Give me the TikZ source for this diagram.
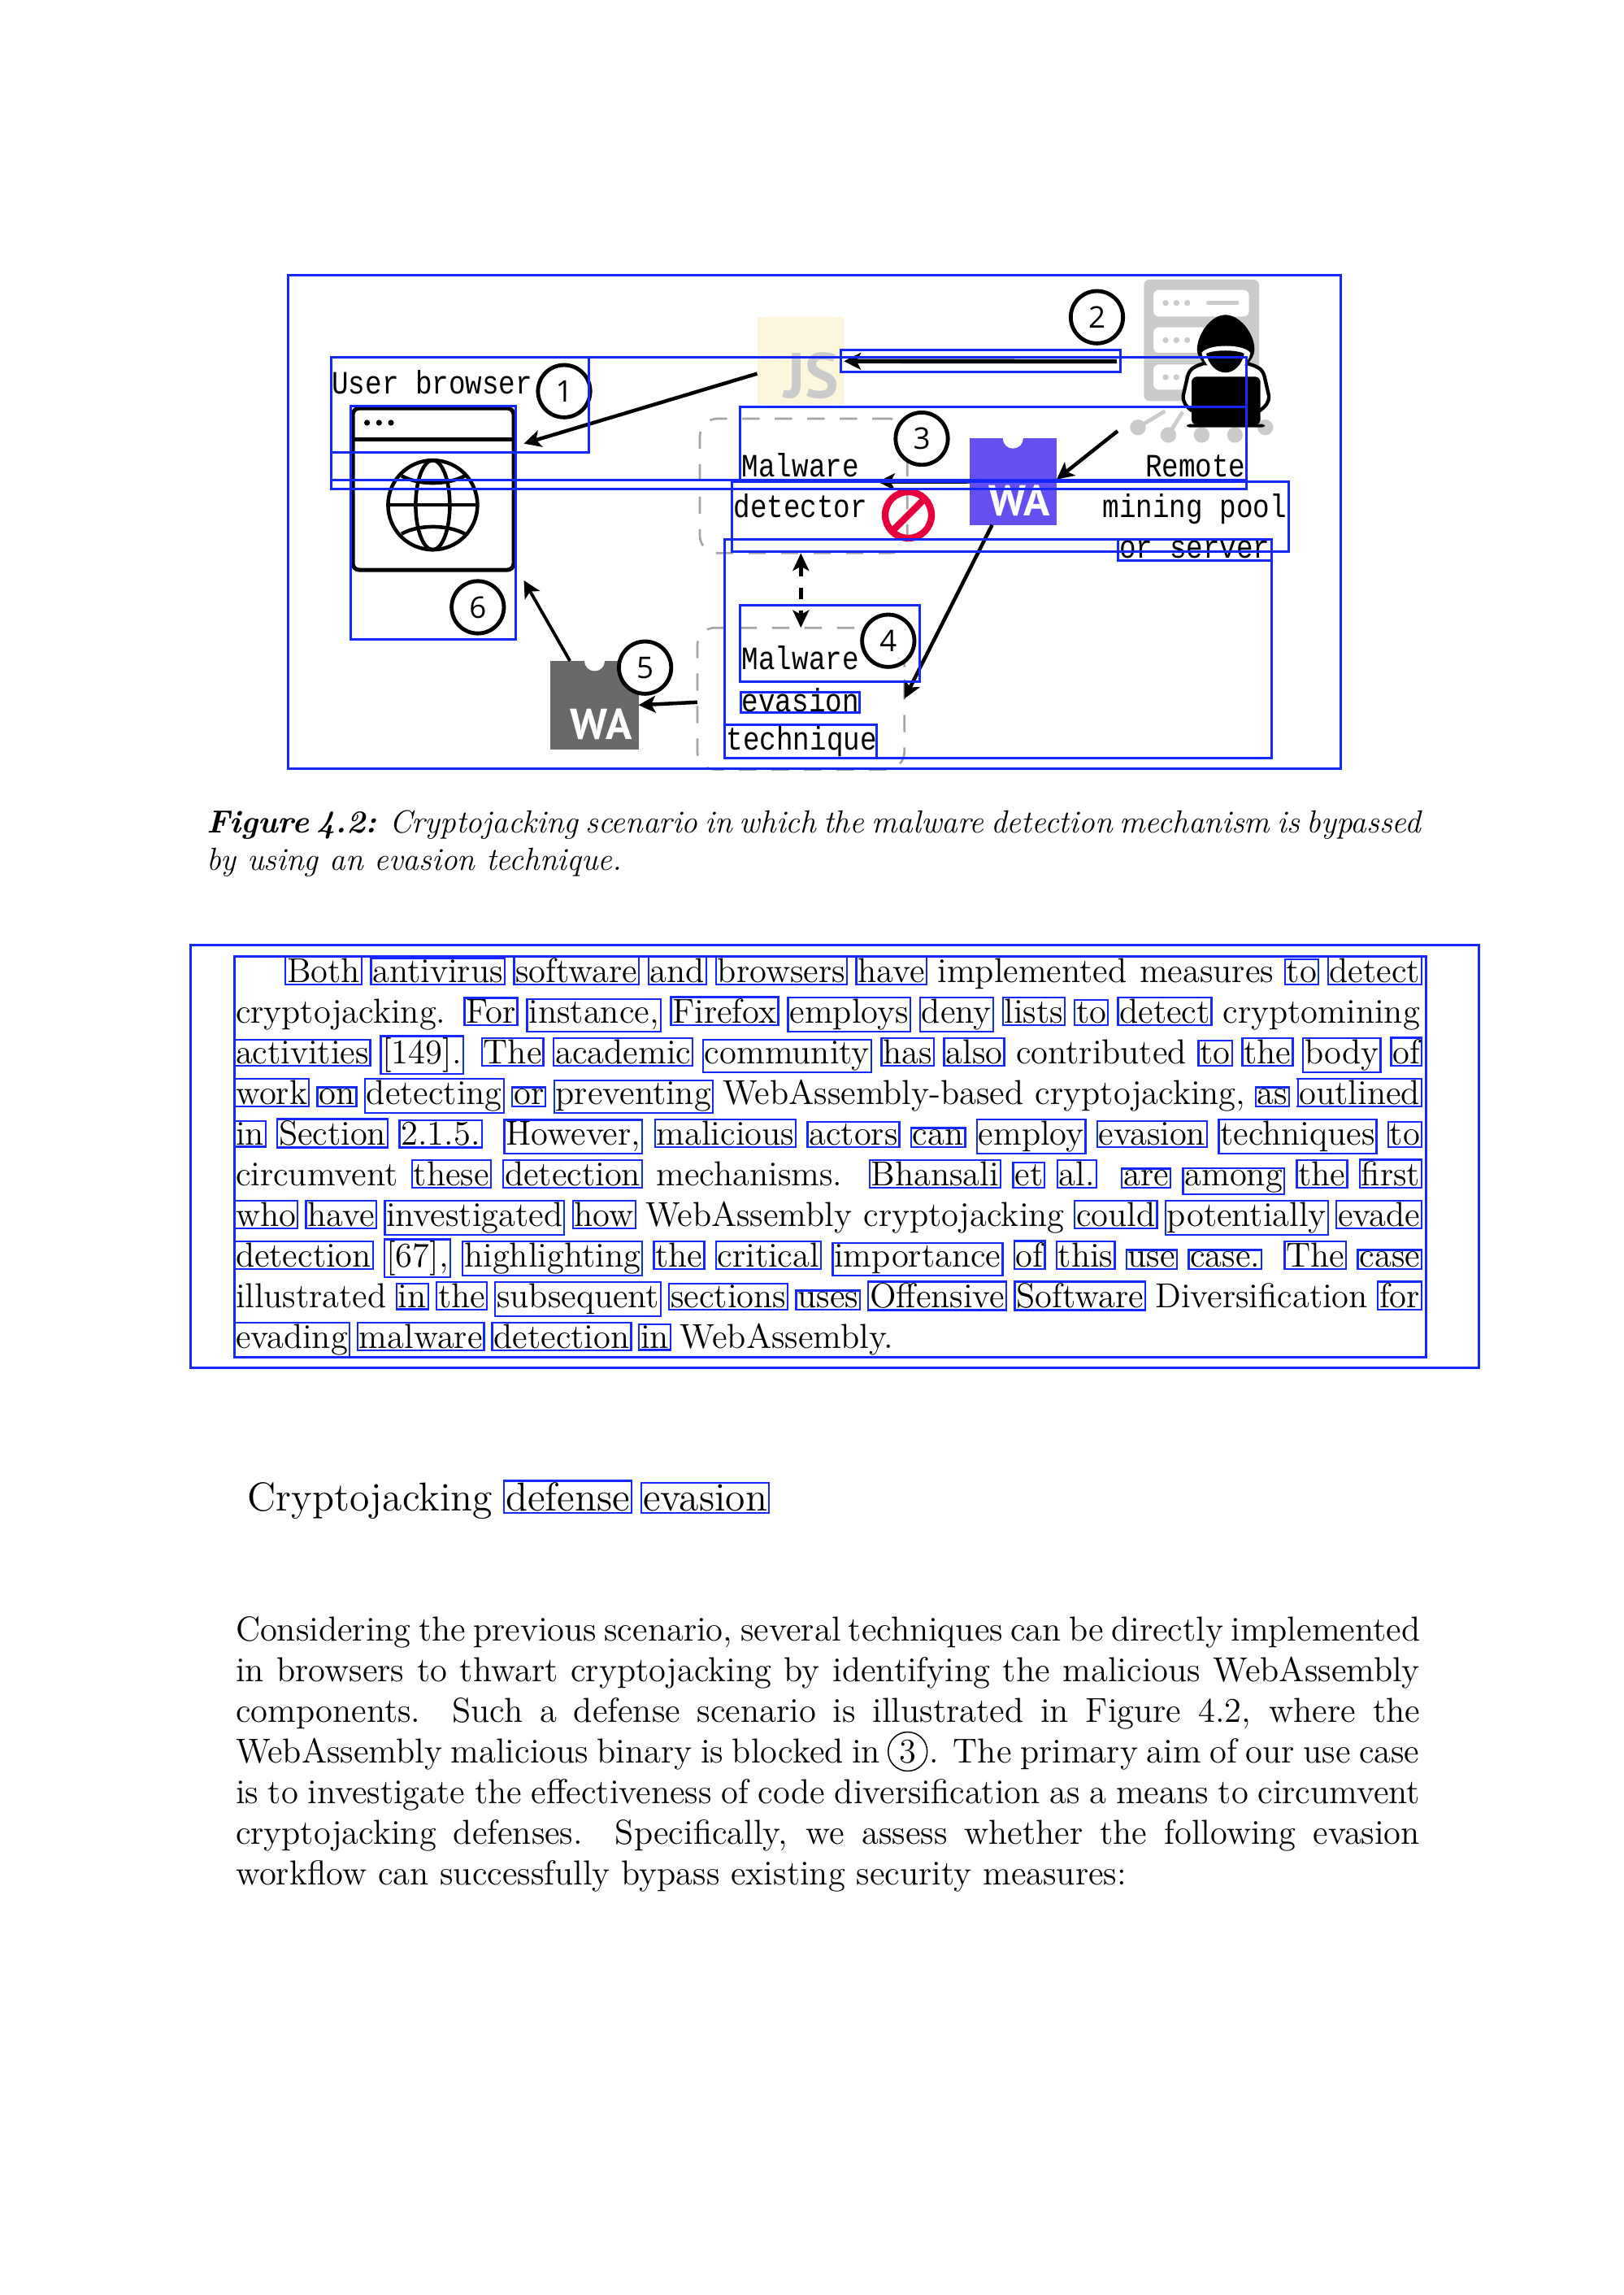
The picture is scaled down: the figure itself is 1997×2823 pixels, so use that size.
\documentclass[tikz,border=0pt]{standalone}
\usepackage{fontspec}
\usetikzlibrary{arrows.meta}
\newfontfamily\monof[FakeStretch=0.857]{Liberation Mono}
\newfontfamily\numf{Open Sans}
\newfontfamily\logof{PT Sans}
\definecolor{boxblue}{RGB}{20,40,255}
\definecolor{dashgray}{RGB}{165,165,165}
\definecolor{jsbg}{RGB}{251,246,220}
\definecolor{lightgray2}{RGB}{203,203,203}
\definecolor{wablue}{RGB}{101,79,240}
\definecolor{wagray}{RGB}{105,105,105}
\definecolor{noent}{RGB}{230,0,60}
\newcommand\bx[1]{\leavevmode\rlap{\kern-.95pt\color{boxblue}\fboxsep=.25pt\fboxrule=.7pt\fbox{\phantom{#1}}}#1}
\newcommand\jl[2]{\hbox to #1{#2}}
\tikzset{
  every node/.style={inner sep=0pt,outer sep=0pt},
  blueb/.style={draw=boxblue,line width=.9pt},
  txtline/.style={anchor=base west,font=\fontsize{12.78}{15}\selectfont},
  capline/.style={anchor=base west,font=\fontsize{11.8}{13.5}\selectfont\itshape},
  monolabel/.style={anchor=base west,font=\fontsize{12}{14}\selectfont\monof},
  numc/.style={circle,draw=black,fill=white,line width=1.45pt,minimum size=19.3pt,font=\fontsize{11}{13}\selectfont\numf},
  dashbox/.style={draw=dashgray,line width=.8pt,rounded corners=6.5pt,dash pattern=on 6.4pt off 5.6pt},
  conn/.style={draw=black,line width=1.35pt,-{Stealth[length=6.3pt,width=6.3pt,inset=1.6pt]}},
  logo/.style={font=\fontsize{16}{18}\selectfont\logof\bfseries},
}
\begin{document}
\begin{tikzpicture}[x=.3pt,y=-.3pt]
\useasboundingbox (0,0) rectangle (1997,2823);
% ---- dashed containers
\node[dashbox,minimum width=76.56pt,minimum height=49.62pt] (detector) at (988.6,597.7) {};
\node[dashbox,minimum width=76.44pt,minimum height=52.29pt] (evasion) at (985.3,859.35) {};
% ---- JS logo
\node[fill=jsbg,minimum width=32pt,minimum height=32.46pt] (js) at (984.85,444.3) {};
\node[anchor=base east,text=lightgray2,font=\fontsize{23.5}{25}\selectfont\logof\bfseries] (jstext) at (1032,489.4) {JS};
% ---- WA logos
\node[fill=wablue,minimum width=32.1pt,minimum height=31.95pt] (wablue) at (1246.5,592.5) {};
\fill[white] (1246.3,539.2) circle [radius=12.5];
\node[logo,text=white,anchor=base] (watext) at (1254,634.3) {WA};
\node[fill=wagray,minimum width=32.55pt,minimum height=32.58pt] (wagray) at (731.25,867.3) {};
\fill[white] (731.5,813) circle [radius=12.5];
\node[logo,text=white,anchor=base] (watext2) at (739.3,909.8) {WA};
% ---- browser icon
\node[draw=black,line width=1.5pt,rounded corners=2.4pt,minimum width=59.4pt,minimum height=59.7pt] (browser) at (533,601.6) {};
\draw[line width=1.5pt] (434,540.4) -- (632,540.4);
\fill (451.6,520) circle [radius=3.6] (466.3,520) circle [radius=3.6] (481,520) circle [radius=3.6];
\begin{scope}[line width=1.35pt]
\draw (532.4,621.2) circle [radius=55];
\draw (532.4,621.2) ellipse [x radius=21,y radius=55];
\draw (477.4,621.2) -- (587.4,621.2);
\draw (494,585.3) .. controls (515,597) and (550,597) .. (572,585.3);
\draw (494,656.7) .. controls (515,645) and (550,645) .. (572,656.7);
\end{scope}
% ---- server and hacker icon
\begin{scope}[shift={(1380,340)},x=.1pt,y=-.1pt]
\fill[lightgray2,rounded corners=2pt] (82,12) rectangle (507,460);
\foreach \ya/\yb in {50/148,188/282,325/418}{
  \fill[white,rounded corners=2pt] (117,\ya) rectangle (470,\yb);
}
\foreach \yy in {98,235,372}{
  \fill[lightgray2] (162,\yy) circle [radius=11] (202,\yy) circle [radius=11] (242,\yy) circle [radius=11];
}
\draw[lightgray2,line width=1.7pt,line cap=round] (320,98) -- (425,98);
\draw[lightgray2,line width=1.4pt] (60,557) -- (160,497);
\draw[lightgray2,line width=1.4pt] (172,585) -- (225,500);
\fill[lightgray2] (60,557) circle [radius=29] (172,585) circle [radius=29] (295,585) circle [radius=29] (418,585) circle [radius=29] (530,557) circle [radius=29];
\draw[black,fill=white,line width=1.3pt,line join=round] (300,322) .. controls (270,332) and (250,340) .. (243,370) -- (227,440) .. controls (225,465) and (238,480) .. (258,495) -- (510,495) .. controls (530,480) and (545,465) .. (543,440) -- (527,370) .. controls (520,340) and (500,332) .. (465,322) -- cycle;
\fill[black] (278,270) .. controls (280,210) and (330,142) .. (383,142) .. controls (436,142) and (490,210) .. (490,270) .. controls (490,290) and (478,310) .. (462,325) -- (305,325) .. controls (290,305) and (278,290) .. (278,270) -- cycle;
\fill[white] (295,282) .. controls (320,248) and (450,248) .. (475,282) .. controls (468,320) and (430,365) .. (383,365) .. controls (340,365) and (302,320) .. (295,282) -- cycle;
\fill[black] (312,285) .. controls (340,270) and (425,270) .. (452,285) .. controls (445,325) and (415,355) .. (383,355) .. controls (350,355) and (320,325) .. (312,285) -- cycle;
\fill[black,rounded corners=2pt] (258,548) -- (258,370) -- (512,370) -- (512,548) -- cycle;
\fill[black,rounded corners=1pt] (240,545) rectangle (528,557);
\end{scope}
\coordinate (srvA) at (1373.8,444.5);
\coordinate (srvB) at (1375,530.2);
\coordinate (brA) at (644.5,545.7);
\coordinate (brB) at (644.5,713.9);
\coordinate (detIn) at (1080,592.7);
% ---- no-entry sign
\node[circle,draw=noent,line width=2.5pt,minimum size=17.1pt] (noentry) at (1117.5,633.5) {};
\draw[noent,line width=2.5pt] (noentry.225) -- (noentry.45);
% ---- connectors
\draw[conn] (js.196) -- (brA);
\draw[conn,line width=1.6pt] (srvA) -- (js.east);
\draw[conn] (srvB) -- (wablue.3);
\draw[conn] (wablue.west) -- (detIn);
\draw[conn] (wablue.244.6) -- (evasion.east);
\draw[conn,line width=1.4pt,dash pattern=on 4.2pt off 4.2pt,{Stealth[length=6.5pt,width=6pt,inset=1.6pt]}-{Stealth[length=6.5pt,width=6pt,inset=1.6pt]}] (evasion.north |- detector.south) -- (evasion.north);
\draw[conn] (evasion.182) -- (wagray.east);
\draw[conn,line width=1.15pt] (wagray.119.3) -- (brB);
% ---- numbered circles
\node[numc] (n1) at (694,481.2) {1};
\node[numc] (n2) at (1349.5,390.2) {2};
\node[numc] (n3) at (1134,539.6) {3};
\node[numc] (n4) at (1092.8,788.2) {4};
\node[numc] (n5) at (793.6,821.2) {5};
\node[numc] (n6) at (587.8,747) {6};
% ---- figure labels
\node[monolabel] (l1) at (408.3,484.3) {User browser};
\node[monolabel] (l2) at (912.8,586.8) {Malware};
\node[monolabel] (l3) at (902.5,636.6) {detector};
\node[monolabel] (l4) at (912.8,823.5) {Malware};
\node[monolabel] (l5) at (912.8,875.3) {evasion};
\node[monolabel] (l6) at (893.6,922.3) {technique};
\node[monolabel] (l7) at (1409,586.8) {Remote};
\node[monolabel] (l8) at (1356.5,636.6) {mining pool};
\node[monolabel] (l9) at (1377.3,686.8) {or server};
% ---- blue boxes of the figure
\draw[blueb] (354.3,338.8) rectangle (1649.6,945.3);
\draw[blueb] (407.4,439.6) rectangle (724.8,556.7);
\draw[blueb] (407.4,439.6) rectangle (1533.4,590.2);
\draw[blueb] (407.4,590.2) rectangle (1533.4,601.2);
\draw[blueb] (910.5,500.8) rectangle (1533.4,590.2);
\draw[blueb] (900.3,592.7) rectangle (1585,678.4);
\draw[blueb] (891.8,664) rectangle (1564,932.2);
\draw[blueb] (1375,664) rectangle (1564,689.4);
\draw[blueb] (1034.7,431) rectangle (1378.1,458);
\draw[blueb] (431.5,500) rectangle (634.6,786.5);
\draw[blueb] (910.5,744.5) rectangle (1131.4,838.4);
\draw[blueb] (911.4,851.4) rectangle (1057.2,876.7);
\draw[blueb] (891.8,891.4) rectangle (1078.5,932.2);
% ---- caption
\node[capline] (cap1) at (254,1024) {\spaceskip=.32em plus .1em minus .2em \jl{448.3pt}{\textbf{Figure 4.2:} Cryptojacking scenario in which the malware detection mechanism is bypassed}};
\node[capline] (cap2) at (254,1070.3) {by using an evasion technique.};
% ---- boxed paragraph
\draw[blueb] (234.6,1162.5) rectangle (1819,1682);
\draw[blueb] (288.5,1176.8) rectangle (1754,1669);
\node[txtline] (p1) at (353,1208.5) {\jl{418.2pt}{\bx{Both} \bx{antivirus} \bx{software} \bx{and} \bx{browsers} \bx{have} implemented measures \bx{to} \bx{detect}}};
\node[txtline] (p2) at (290,1258.5) {\jl{437.1pt}{cryptojacking. \bx{For} \bx{instance,} \bx{Firefox} \bx{employs} \bx{deny} \bx{lists} \bx{to} \bx{detect} cryptomining}};
\node[txtline] (p3) at (290,1308.5) {\jl{437.1pt}{\bx{activities} \bx{[149].} \bx{The} \bx{academic} \bx{community} \bx{has} \bx{also} contributed \bx{to} \bx{the} \bx{body} \bx{of}}};
\node[txtline] (p4) at (290,1358.5) {\jl{437.1pt}{\bx{work} \bx{on} \bx{detecting} \bx{or} \bx{preventing} WebAssembly-based cryptojacking, \bx{as} \bx{outlined}}};
\node[txtline] (p5) at (290,1408.5) {\jl{437.1pt}{\bx{in} \bx{Section} \bx{2.1.5.} \bx{However,} \bx{malicious} \bx{actors} \bx{can} \bx{employ} \bx{evasion} \bx{techniques} \bx{to}}};
\node[txtline] (p6) at (290,1458.5) {\jl{437.1pt}{circumvent \bx{these} \bx{detection} mechanisms. \bx{Bhansali} \bx{et} \bx{al.} \bx{are} \bx{among} \bx{the} \bx{first}}};
\node[txtline] (p7) at (290,1508.5) {\jl{437.1pt}{\bx{who} \bx{have} \bx{investigated} \bx{how} WebAssembly cryptojacking \bx{could} \bx{potentially} \bx{evade}}};
\node[txtline] (p8) at (290,1558.5) {\jl{437.1pt}{\bx{detection} \bx{[67],} \bx{highlighting} \bx{the} \bx{critical} \bx{importance} \bx{of} \bx{this} \bx{use} \bx{case.} \bx{The} \bx{case}}};
\node[txtline] (p9) at (290,1608.5) {\jl{437.1pt}{illustrated \bx{in} \bx{the} \bx{subsequent} \bx{sections} \bx{uses} \bx{Offensive} \bx{Software} Diversification \bx{for}}};
\node[txtline] (p10) at (290,1658.5) {\bx{evading} \bx{malware} \bx{detection} \bx{in} WebAssembly.};
% ---- section title
\node[anchor=base west,font=\fontsize{14.9}{18}\selectfont] (sect) at (304.6,1858.3) {Cryptojacking \bx{defense} \bx{evasion}};
% ---- last paragraph
\node[txtline] (q1) at (290,2018) {\jl{437.1pt}{Considering the previous scenario, several techniques can be directly implemented}};
\node[txtline] (q2) at (290,2068) {\jl{437.1pt}{in browsers to thwart cryptojacking by identifying the malicious WebAssembly}};
\node[txtline] (q3) at (290,2118) {\jl{437.1pt}{components. Such a defense scenario is illustrated in Figure 4.2, where the}};
\node[txtline] (q4a) at (290,2168) {\jl{237.9pt}{WebAssembly malicious binary is blocked in}};
\node[circle,draw=black,line width=.45pt,minimum size=14.4pt,font=\fontsize{12.78}{15}\selectfont] (c3) at (1116.7,2154.5) {3};
\node[txtline,anchor=base east] (q4b) at (1746.5,2168) {\jl{180.8pt}{. The primary aim of our use case}};
\node[txtline] (q5) at (290,2218) {\jl{437.1pt}{is to investigate the effectiveness of code diversification as a means to circumvent}};
\node[txtline] (q6) at (290,2268) {\jl{437.1pt}{cryptojacking defenses. Specifically, we assess whether the following evasion}};
\node[txtline] (q7) at (290,2318) {workflow can successfully bypass existing security measures:};
\end{tikzpicture}
\end{document}
